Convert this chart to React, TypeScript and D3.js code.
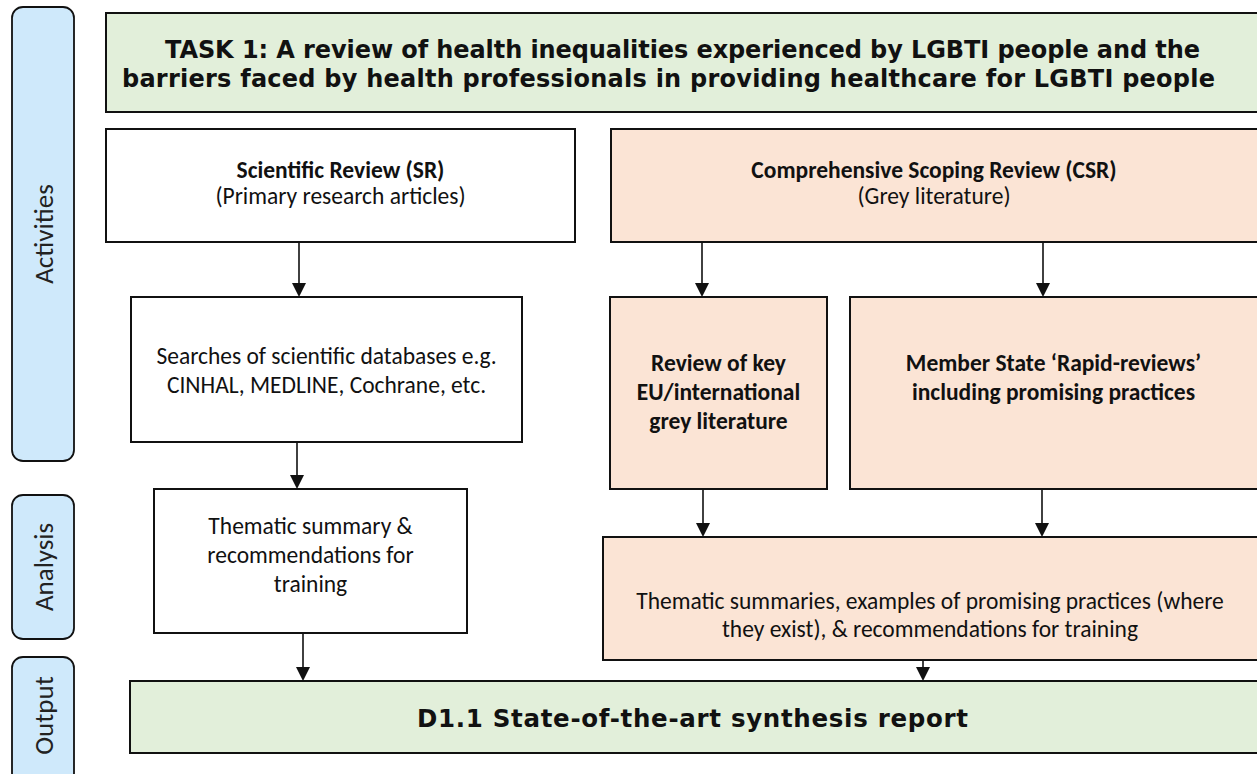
import React from "react";
import * as d3 from "d3";

// ---- content ----
const titleLines = [
  "TASK 1: A review of health inequalities experienced by LGBTI people and the",
  "barriers faced by health professionals in providing healthcare for LGBTI people",
];
const stageLabels = ["Activities", "Analysis", "Output"];
const srLines = ["Scientific Review (SR)", "(Primary research articles)"];
const csrLines = ["Comprehensive Scoping Review (CSR)", "(Grey literature)"];
const searchLines = ["Searches of scientific databases e.g.", "CINHAL, MEDLINE, Cochrane, etc."];
const reviewLines = ["Review of key", "EU/international", "grey literature"];
const memberLines = ["Member State \u2018Rapid-reviews\u2019", "including promising practices"];
const summaryLines = ["Thematic summary &", "recommendations for", "training"];
const summariesLines = [
  "Thematic summaries, examples of promising practices (where",
  "they exist), & recommendations for training",
];
const outputLines = ["D1.1 State-of-the-art synthesis report"];

// ---- layout ----
const W = 1257;
const H = 774;
const GREEN = "#e2efda";
const PEACH = "#fbe4d5";
const BLUE = "#cfe9fb";
const CAL = "Carlito, Lato, 'Open Sans', sans-serif";
const VER = "Verdana, 'DejaVu Sans', sans-serif";
const CS = 23.5;

type Box = {
  x0: number; y0: number; x1: number; y1: number; fill: string;
  lines: string[]; baselines: number[]; bold: boolean[]; font: string; size: number;
  textLength?: number[]; textStart?: number[];
};

const boxes: Box[] = [
  { x0: 106, y0: 13, x1: 1262, y1: 112, fill: GREEN, lines: titleLines, baselines: [58, 87], bold: [true, true], font: VER, size: 24, textLength: [1035, 1093], textStart: [165, 122] },
  { x0: 106, y0: 129, x1: 575, y1: 242, fill: "#ffffff", lines: srLines, baselines: [178, 204], bold: [true, false], font: CAL, size: CS },
  { x0: 611, y0: 129, x1: 1262, y1: 242, fill: PEACH, lines: csrLines, baselines: [178, 204], bold: [true, false], font: CAL, size: CS },
  { x0: 131, y0: 297, x1: 522, y1: 442, fill: "#ffffff", lines: searchLines, baselines: [364, 393], bold: [false, false], font: CAL, size: CS },
  { x0: 610, y0: 297, x1: 827, y1: 489, fill: PEACH, lines: reviewLines, baselines: [371, 400, 429], bold: [true, true, true], font: CAL, size: CS },
  { x0: 850, y0: 297, x1: 1262, y1: 489, fill: PEACH, lines: memberLines, baselines: [371, 400], bold: [true, true], font: CAL, size: CS },
  { x0: 154, y0: 489, x1: 467, y1: 633, fill: "#ffffff", lines: summaryLines, baselines: [534, 563, 592], bold: [false, false, false], font: CAL, size: CS },
  { x0: 603, y0: 537, x1: 1262, y1: 660, fill: PEACH, lines: summariesLines, baselines: [609, 637], bold: [false, false], font: CAL, size: CS },
  { x0: 130, y0: 681, x1: 1262, y1: 753, fill: GREEN, lines: outputLines, baselines: [727], bold: [true], font: VER, size: 24.5, textLength: [551], textStart: [417] },
];

const stageBoxes = [
  { y0: 7, y1: 461 },
  { y0: 495, y1: 639 },
  { y0: 657, y1: 784 },
];

const arrows: [number, number, number][] = [
  [299, 242, 297],
  [297, 442, 489],
  [303, 633, 681],
  [702, 242, 297],
  [1043, 242, 297],
  [703, 489, 537],
  [1042, 489, 537],
  [923, 660, 681],
];

const line = d3.line<[number, number]>();

export default function App() {
  return (
    <svg width={W} height={H} style={{ position: "absolute", left: 0, top: 0, background: "#fff" }}>
      {stageBoxes.map((s, i) => (
        <g key={"s" + i}>
          <rect x={12} y={s.y0} width={62} height={s.y1 - s.y0} rx={11} ry={11} fill={BLUE} stroke="#111" strokeWidth={1.8} />
          <text
            transform={`translate(43,${(s.y0 + Math.min(s.y1, H)) / 2}) rotate(-90)`}
            textAnchor="middle"
            dominantBaseline="central"
            fontFamily={CAL}
            fontSize={27}
            fill="#222"
          >
            {stageLabels[i]}
          </text>
        </g>
      ))}
      {boxes.map((b, i) => (
        <g key={"b" + i}>
          <rect x={b.x0} y={b.y0} width={b.x1 - b.x0} height={b.y1 - b.y0} fill={b.fill} stroke="#111" strokeWidth={2} />
          {b.lines.map((t, j) => (
            <text
              key={j}
              x={b.textStart ? b.textStart[j] : (b.x0 + Math.min(b.x1, W)) / 2}
              y={b.baselines[j]}
              textAnchor={b.textStart ? "start" : "middle"}
              fontFamily={b.font}
              fontWeight={b.bold[j] ? "bold" : "normal"}
              fontSize={b.size}
              fill="#111"
              textLength={b.textLength ? b.textLength[j] : undefined}
              lengthAdjust="spacing"
            >
              {t}
            </text>
          ))}
        </g>
      ))}
      {arrows.map(([x, y0, y1], i) => (
        <g key={"a" + i}>
          <path d={line([[x, y0], [x, y1 - 12]]) || ""} stroke="#111" strokeWidth={1.6} fill="none" />
          <path d={line([[x - 7, y1 - 14], [x + 7, y1 - 14], [x, y1]]) + "Z"} fill="#111" />
        </g>
      ))}
    </svg>
  );
}
